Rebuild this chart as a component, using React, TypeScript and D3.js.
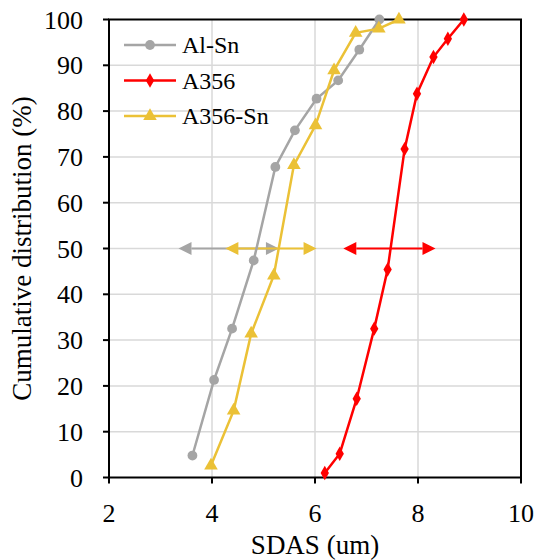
import React from 'react';
import * as d3 from 'd3';

const WIDTH = 538;
const HEIGHT = 560;

const MARGIN = { top: 19.5, right: 17, bottom: 82.5, left: 109 };

const X_TICKS = [2, 4, 6, 8, 10];
const Y_TICKS = [0, 10, 20, 30, 40, 50, 60, 70, 80, 90, 100];

// SDAS (um) vs cumulative distribution (%)
const alSnX = [3.62, 4.04, 4.39, 4.81, 5.23, 5.61, 6.03, 6.45, 6.86, 7.25];
const alSnY = [4.8, 21.3, 32.5, 47.4, 67.8, 75.8, 82.7, 86.7, 93.4, 100];

const a356X = [6.19, 6.48, 6.81, 7.15, 7.41, 7.74, 7.98, 8.3, 8.58, 8.89];
const a356Y = [1.0, 5.2, 17.2, 32.5, 45.4, 71.7, 83.8, 91.8, 95.8, 100];

const a356SnX = [3.98, 4.42, 4.76, 5.2, 5.59, 6.01, 6.37, 6.79, 7.24, 7.63];
const a356SnY = [2.6, 14.6, 31.4, 44.1, 68.2, 76.9, 88.9, 97.1, 98.0, 100];

// double arrows at 50%: [left tip, right tip]
const arrowRanges = [
  { name: 'Al-Sn', range: [3.35, 5.3] },
  { name: 'A356-Sn', range: [4.26, 6.03] },
  { name: 'A356', range: [6.55, 8.34] },
];

const SERIES = [
  { name: 'Al-Sn', xs: alSnX, ys: alSnY, color: '#A5A5A5', symbol: d3.symbolCircle, size: 75 },
  { name: 'A356', xs: a356X, ys: a356Y, color: '#FF0000', symbol: d3.symbolDiamond, size: 60 },
  { name: 'A356-Sn', xs: a356SnX, ys: a356SnY, color: '#EBC136', symbol: d3.symbolTriangle, size: 80 },
];

const x = d3.scaleLinear().domain([2, 10]).range([MARGIN.left, WIDTH - MARGIN.right]);
const y = d3.scaleLinear().domain([0, 100]).range([HEIGHT - MARGIN.bottom, MARGIN.top]);
const line = d3.line<[number, number]>().x(d => x(d[0])).y(d => y(d[1]));

const SERIF = "'Times New Roman'";

export default function App() {
  const y50 = y(50);
  const headLen = 13;
  const headHalf = 6.5;

  return (
    <svg
      width={WIDTH}
      height={HEIGHT}
      style={{ position: 'absolute', left: 0, top: 0, fontFamily: SERIF }}
    >
      {/* grid */}
      {X_TICKS.slice(1, -1).map(t => (
        <line key={'gx' + t} x1={x(t)} x2={x(t)} y1={y(0)} y2={y(100)} stroke="#D9D9D9" strokeWidth={1.5} />
      ))}
      {Y_TICKS.slice(1, -1).map(t => (
        <line key={'gy' + t} x1={x(2)} x2={x(10)} y1={y(t)} y2={y(t)} stroke="#D9D9D9" strokeWidth={1.5} />
      ))}

      {/* frame */}
      <rect
        x={x(2)} y={y(100)} width={x(10) - x(2)} height={y(0) - y(100)}
        fill="none" stroke="#000" strokeWidth={2}
      />

      {/* x ticks */}
      {X_TICKS.map(t => (
        <g key={'xt' + t}>
          <line x1={x(t)} x2={x(t)} y1={y(0)} y2={y(0) + 6} stroke="#000" strokeWidth={2} />
          <text x={x(t)} y={y(0) + 44} textAnchor="middle" style={{ fontFamily: SERIF, fontSize: 26 }}>{t}</text>
        </g>
      ))}

      {/* y ticks */}
      {Y_TICKS.map(t => (
        <g key={'yt' + t}>
          <line x1={x(2) - 6} x2={x(2)} y1={y(t)} y2={y(t)} stroke="#000" strokeWidth={2} />
          <text x={x(2) - 26} y={y(t) + 9} textAnchor="end" style={{ fontFamily: SERIF, fontSize: 26 }}>{t}</text>
        </g>
      ))}

      {/* arrows at 50 % */}
      {arrowRanges.map(a => {
        const color = SERIES.find(s => s.name === a.name)!.color;
        const lo = x(a.range[0]);
        const hi = x(a.range[1]);
        return (
          <g key={'ar' + a.name}>
            <line x1={lo + headLen} x2={hi - headLen} y1={y50} y2={y50} stroke={color} strokeWidth={2} />
            <path d={`M${lo},${y50}L${lo + headLen},${y50 - headHalf}L${lo + headLen},${y50 + headHalf}Z`} fill={color} />
            <path d={`M${hi},${y50}L${hi - headLen},${y50 - headHalf}L${hi - headLen},${y50 + headHalf}Z`} fill={color} />
          </g>
        );
      })}

      {/* series */}
      {SERIES.map(s => {
        const pts: [number, number][] = s.xs.map((v, i) => [v, s.ys[i]]);
        const sym = d3.symbol().type(s.symbol).size(s.size)() || '';
        return (
          <g key={'s' + s.name}>
            <path d={line(pts) || ''} fill="none" stroke={s.color} strokeWidth={2.5} />
            {pts.map((p, i) => (
              <path key={i} d={sym} transform={`translate(${x(p[0])}, ${y(p[1])})`} fill={s.color} />
            ))}
          </g>
        );
      })}

      {/* legend */}
      {SERIES.map((s, i) => {
        const ly = 45 + i * 35.5;
        const sym = d3.symbol().type(s.symbol).size(s.size)() || '';
        return (
          <g key={'lg' + s.name}>
            <line x1={124} x2={176} y1={ly} y2={ly} stroke={s.color} strokeWidth={2.5} />
            <path d={sym} transform={`translate(150, ${ly})`} fill={s.color} />
            <text x={182} y={ly + 8} style={{ fontFamily: SERIF, fontSize: 24 }}>{s.name}</text>
          </g>
        );
      })}

      {/* axis titles */}
      <text x={(x(2) + x(10)) / 2} y={554} textAnchor="middle" style={{ fontFamily: SERIF, fontSize: 27 }}>
        SDAS (um)
      </text>
      <text
        transform={`translate(31, ${(y(0) + y(100)) / 2}) rotate(-90)`}
        textAnchor="middle"
        style={{ fontFamily: SERIF, fontSize: 27 }}
      >
        Cumulative distribution (%)
      </text>
    </svg>
  );
}
